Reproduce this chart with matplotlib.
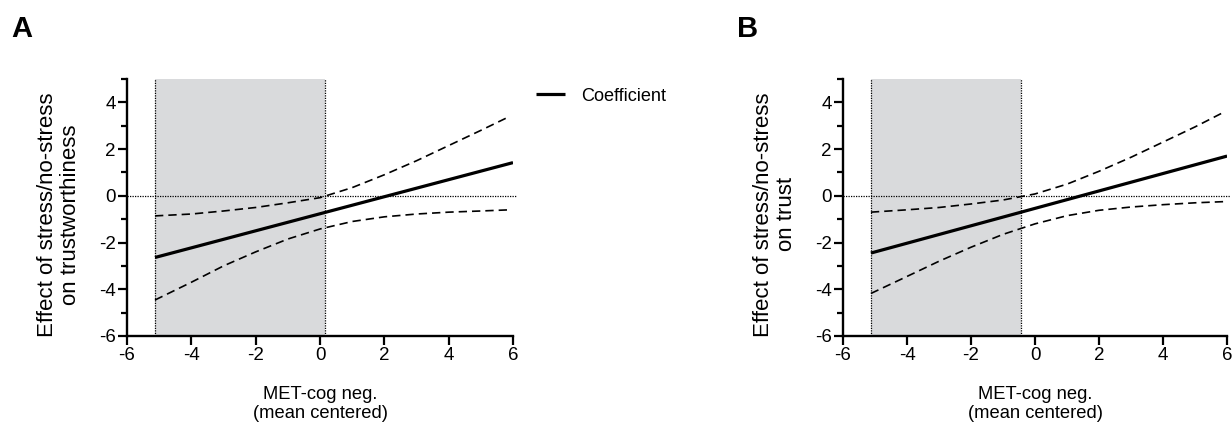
import numpy as np
import matplotlib.pyplot as plt

plt.rcParams['font.family'] = ['Liberation Sans', 'DejaVu Sans']

# moderator values (MET-cog neg., mean centered)
x_coef = [-5.13, 6.0]
x_ci = [-5.13, -4, -3, -2, -1, 0, 1, 2, 3, 4, 5, 5.9]

# panel A: trustworthiness
coef_a = [-2.64, 1.42]
upper_a = [-0.86, -0.78, -0.65, -0.5, -0.3, -0.08, 0.35, 0.9, 1.5, 2.15, 2.8, 3.4]
lower_a = [-4.46, -3.7, -3.0, -2.4, -1.85, -1.42, -1.1, -0.9, -0.78, -0.7, -0.65, -0.6]
region_a = [-5.13, 0.15]

# panel B: trust
coef_b = [-2.45, 1.70]
upper_b = [-0.7, -0.6, -0.5, -0.35, -0.18, 0.08, 0.5, 1.05, 1.65, 2.3, 2.95, 3.58]
lower_b = [-4.18, -3.45, -2.8, -2.2, -1.65, -1.2, -0.85, -0.62, -0.48, -0.38, -0.3, -0.25]
region_b = [-5.13, -0.43]

xticks = [-6, -4, -2, 0, 2, 4, 6]
yticks = [-6, -4, -2, 0, 2, 4]

fig = plt.figure(figsize=(12.32, 4.23), dpi=100)
ax_a = fig.add_axes([0.1031, 0.2057, 0.3133, 0.6076])
ax_b = fig.add_axes([0.6843, 0.2057, 0.3117, 0.6076])


def draw_panel(ax, coef, upper, lower, region, ylabel):
    ax.axvspan(region[0], region[1], ymin=0, ymax=1, color='#d9dadc', lw=0, zorder=0)
    for xv in region:
        ax.axvline(xv, color='black', lw=0.9, ls=(0, (1, 1)), zorder=1)
    ax.plot([-6, 6.1], [0, 0], color='black', lw=0.9, ls=(0, (1, 1)), zorder=1, clip_on=False)
    ax.plot(x_ci, upper, color='black', lw=1.2, ls=(0, (5, 3)), zorder=2)
    ax.plot(x_ci, lower, color='black', lw=1.2, ls=(0, (5, 3)), zorder=2)
    line, = ax.plot(x_coef, coef, color='black', lw=2.3, zorder=3, solid_capstyle='butt')

    ax.set_xlim(-6, 6)
    ax.set_ylim(-6, 5)
    ax.set_xticks(xticks)
    ax.set_xticklabels([str(v) for v in xticks])
    ax.set_yticks(yticks)
    ax.set_yticklabels([str(v) for v in yticks])
    ax.set_yticks([-5, -3, -1, 1, 3, 5], minor=True)
    ax.tick_params(axis='both', which='major', direction='out', length=6.5, width=1.6,
                   labelsize=13.5, pad=1.5)
    ax.tick_params(axis='y', which='minor', direction='out', length=4, width=1.6)
    for side in ['top', 'right']:
        ax.spines[side].set_visible(False)
    for side in ['left', 'bottom']:
        ax.spines[side].set_linewidth(1.7)
    ax.set_xlabel('MET-cog neg.\n(mean centered)', fontsize=13.2, labelpad=16, linespacing=1.1)
    ax.set_ylabel(ylabel, fontsize=16, linespacing=1.15)
    ax.yaxis.set_label_coords(-0.119, 0.473)
    return line


line_a = draw_panel(ax_a, coef_a, upper_a, lower_a, region_a,
                    'Effect of stress/no-stress\non trustworthiness')
draw_panel(ax_b, coef_b, upper_b, lower_b, region_b,
           'Effect of stress/no-stress\non trust')

fig.legend([line_a], ['Coefficient'], loc='center left', bbox_to_anchor=(0.4215, 0.773),
           frameon=False, fontsize=13.1, handlelength=1.6, handletextpad=0.9)

fig.text(0.009, 0.912, 'A', fontsize=21, fontweight='bold')
fig.text(0.598, 0.912, 'B', fontsize=21, fontweight='bold')

fig.savefig('out.png', dpi=100)
